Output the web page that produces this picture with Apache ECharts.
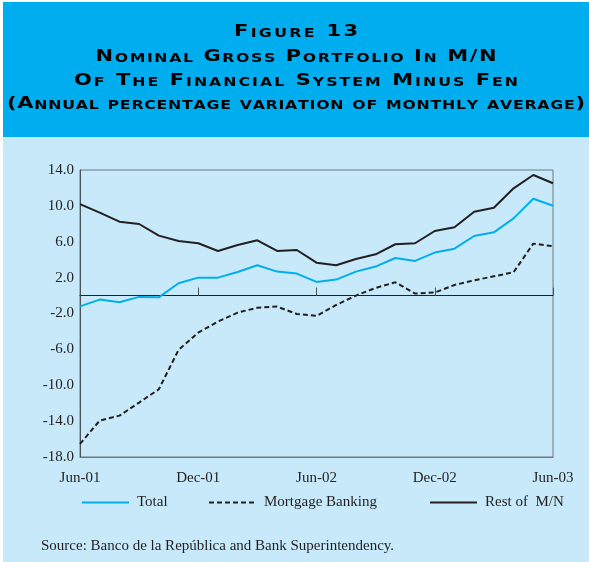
<!DOCTYPE html>
<html>
<head>
<meta charset="utf-8">
<script src="https://cdn.jsdelivr.net/npm/echarts@6/dist/echarts.min.js"></script>
<style>
  html, body { margin: 0; padding: 0; background: #ffffff; }
  #chart { width: 589px; height: 562px; }
</style>
</head>
<body>
<div id="chart"></div>
<script>
// months Jun-01 .. Jun-03
var months = ['Jun-01', 'Jul-01', 'Aug-01', 'Sep-01', 'Oct-01', 'Nov-01', 'Dec-01',
  'Jan-02', 'Feb-02', 'Mar-02', 'Apr-02', 'May-02', 'Jun-02', 'Jul-02', 'Aug-02',
  'Sep-02', 'Oct-02', 'Nov-02', 'Dec-02', 'Jan-03', 'Feb-03', 'Mar-03', 'Apr-03',
  'May-03', 'Jun-03'];

var total = [-1.2, -0.45, -0.75, -0.15, -0.2, 1.37, 2.0, 2.0, 2.63, 3.38, 2.67, 2.45,
  1.52, 1.78, 2.67, 3.23, 4.19, 3.86, 4.79, 5.23, 6.64, 7.05, 8.61, 10.8, 10.02];
var mortgage = [-16.54, -13.94, -13.39, -11.93, -10.45, -6.06, -4.13, -2.9, -1.9, -1.35,
  -1.23, -2.05, -2.27, -1.05, 0.0, 0.85, 1.48, 0.22, 0.34, 1.18, 1.7, 2.15, 2.6, 5.79, 5.5];
var rest = [10.2, 9.24, 8.24, 7.98, 6.68, 6.09, 5.83, 4.97, 5.64, 6.16, 4.97, 5.08,
  3.67, 3.38, 4.08, 4.6, 5.72, 5.83, 7.2, 7.61, 9.35, 9.8, 11.96, 13.44, 12.52];

var seriesNames = ['Total', 'Mortgage Banking', 'Rest of  M/N'];
var titleLines = ['Figure 13', 'Nominal Gross Portfolio In M/N',
  'Of The Financial System Minus Fen', '(Annual percentage variation of monthly average)'];
var sourceText = 'Source: Banco de la Rep\u00fablica and Bank Superintendency.';

var serif = '"Liberation Serif", "Times New Roman", serif';
var titleFont = '"DejaVu Sans", sans-serif';
var ink = '#231f20';

// small caps title line, stretched and letter spaced to fit a given width
var measureCtx = document.createElement('canvas').getContext('2d');
var stretch = 1.28;
function capsLine(str, bigSize, smallSize, width, key) {
  var parts = [];
  var natural = 0;
  for (var i = 0; i < str.length; i++) {
    var c = str[i];
    var small = c !== c.toUpperCase();
    var size = small ? smallSize : bigSize;
    measureCtx.font = 'bold ' + size + 'px ' + titleFont;
    natural += measureCtx.measureText(small ? c.toUpperCase() : c).width;
    parts.push([small ? 's' + key : 'b' + key, small ? c.toUpperCase() : c]);
  }
  var ls = Math.max(0, (width / stretch - natural) / (str.length - 1));
  var rich = {};
  rich['b' + key] = { fontSize: bigSize, fontWeight: 'bold', fontFamily: titleFont, color: '#fff',
    verticalAlign: 'bottom', padding: [0, ls, 0, 0] };
  rich['s' + key] = { fontSize: smallSize, fontWeight: 'bold', fontFamily: titleFont, color: '#fff',
    verticalAlign: 'bottom', padding: [0, ls, 0, 0] };
  var text = parts.map(function (p) { return '{' + p[0] + '|' + p[1] + '}'; }).join('');
  return { text: text, rich: rich, ls: ls };
}

var lineWidths = [124, 401, 444, 578];
var lineY = [32, 57, 81, 104];
var titleGraphics = titleLines.map(function (t, i) {
  var l = capsLine(t, 16.4, 12.3, lineWidths[i], i);
  return {
    type: 'text',
    x: 296 + l.ls * stretch / 2,
    y: lineY[i],
    scaleX: stretch,
    style: { text: l.text, rich: l.rich, align: 'center', verticalAlign: 'middle' }
  };
});

function legendAt(name, left) {
  return {
    data: [name],
    left: left,
    top: 495,
    padding: 0,
    itemWidth: 47,
    itemHeight: 16,
    selectedMode: false,
    itemStyle: { opacity: 0 },
    textStyle: { fontFamily: serif, fontSize: 15, color: ink, padding: [0, 0, 0, 3] }
  };
}

var chart = echarts.init(document.getElementById('chart'));
chart.setOption({
  animation: false,
  backgroundColor: '#ffffff',
  graphic: [
    { type: 'rect', shape: { x: 3, y: 2, width: 586, height: 560 }, style: { fill: '#c7e9fa' }, z: -10 },
    { type: 'rect', shape: { x: 3, y: 2, width: 586, height: 135 }, style: { fill: '#00aeef' }, z: -9 },
    {
      type: 'text', left: 41, top: 539,
      style: { text: sourceText, fontFamily: serif, fontSize: 15, fill: ink }
    }
  ].concat(titleGraphics),
  legend: [
    legendAt(seriesNames[0], 81),
    legendAt(seriesNames[1], 208),
    legendAt(seriesNames[2], 429)
  ],
  grid: {
    left: 80, right: 36, top: 170, bottom: 105,
    show: true, borderColor: '#6a7880', borderWidth: 1, backgroundColor: 'transparent'
  },
  xAxis: [
    {
      type: 'category',
      data: months,
      boundaryGap: false,
      position: 'bottom',
      axisLine: { onZero: false, lineStyle: { color: '#6a7880' } },
      axisTick: { show: false },
      axisLabel: { interval: 5, margin: 14, fontFamily: serif, fontSize: 15, color: ink }
    },
    {
      // zero line with half-year ticks
      type: 'category',
      data: months,
      boundaryGap: false,
      position: 'top',
      axisLine: { onZero: true, lineStyle: { color: ink, width: 1 } },
      axisTick: { show: true, interval: 5, length: 8, lineStyle: { color: '#4a5257' } },
      axisLabel: { show: false },
      splitLine: { show: false }
    }
  ],
  yAxis: {
    type: 'value',
    min: -18,
    max: 14,
    interval: 2,
    axisLine: { show: true, lineStyle: { color: '#4a5257' } },
    axisTick: { show: false },
    splitLine: { show: false },
    axisLabel: {
      margin: 6, fontFamily: serif, fontSize: 15, color: ink,
      formatter: function (v) { return (v + 18) % 4 === 0 ? v.toFixed(1) : ''; }
    }
  },
  series: [
    {
      name: seriesNames[0], type: 'line', data: total, symbol: 'none',
      lineStyle: { color: '#00aeef', width: 2 }, itemStyle: { color: '#00aeef' }
    },
    {
      name: seriesNames[1], type: 'line', data: mortgage, symbol: 'none',
      lineStyle: { color: ink, width: 2, type: [5, 3] }, itemStyle: { color: ink }
    },
    {
      name: seriesNames[2], type: 'line', data: rest, symbol: 'none',
      lineStyle: { color: ink, width: 2 }, itemStyle: { color: ink }
    }
  ]
});
</script>
</body>
</html>
